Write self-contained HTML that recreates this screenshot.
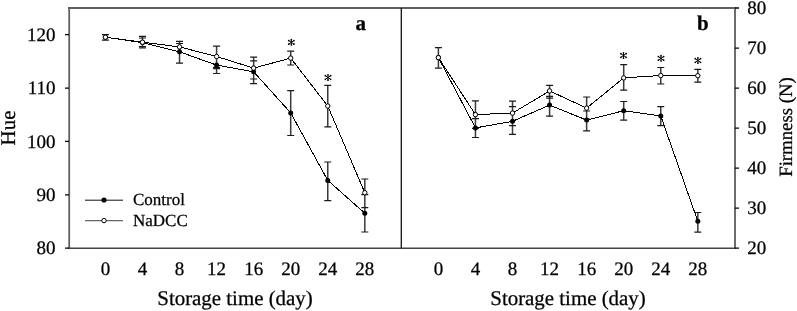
<!DOCTYPE html>
<html><head><meta charset="utf-8"><title>Hue and Firmness</title><style>
html,body{margin:0;padding:0;background:#fff;}
body{width:797px;height:311px;overflow:hidden;}
svg{display:block;text-rendering:geometricPrecision;will-change:transform;}
text{font-family:"Liberation Serif",serif;fill:#000;stroke:#000;stroke-width:0.25px;}
.tk{font-size:19px;}
.ti{font-size:20.9px;}
.tr{font-size:18.8px;}
.lg{font-size:17px;}
.ab{font-size:21px;font-weight:bold;}
.st{font-size:17px;}
</style></head><body>
<svg width="797" height="311" viewBox="0 0 797 311">
<rect width="797" height="311" fill="#fff"/>
<path d="M68 8H736" stroke="#606060" stroke-width="2" fill="none"/>
<path d="M69.2 8V248.2" stroke="#606060" stroke-width="1.8" fill="none"/>
<path d="M735 8V248.2" stroke="#666" stroke-width="1.9" fill="none"/>
<path d="M68 248.2H736" stroke="#444" stroke-width="1.6" fill="none"/>
<path d="M401.3 8V248.2" stroke="#111" stroke-width="1.3" fill="none"/>
<path d="M65 34.69H69 M65 88.07H69 M65 141.44H69 M65 194.82H69 M65 248.2H69 M735 8H739 M735 48.03H739 M735 88.07H739 M735 128.1H739 M735 168.13H739 M735 208.17H739 M735 248.2H739" stroke="#000" stroke-width="1.3" fill="none"/>
<text x="55.5" y="40.89" class="tk" text-anchor="end">120</text>
<text x="55.5" y="94.27" class="tk" text-anchor="end">110</text>
<text x="55.5" y="147.64" class="tk" text-anchor="end">100</text>
<text x="55.5" y="201.02" class="tk" text-anchor="end">90</text>
<text x="55.5" y="254.4" class="tk" text-anchor="end">80</text>
<text x="747.3" y="14" class="tk">80</text>
<text x="747.3" y="54.03" class="tk">70</text>
<text x="747.3" y="94.07" class="tk">60</text>
<text x="747.3" y="134.1" class="tk">50</text>
<text x="747.3" y="174.13" class="tk">40</text>
<text x="747.3" y="214.17" class="tk">30</text>
<text x="747.3" y="254.2" class="tk">20</text>
<text x="105.4" y="274.5" class="tk" text-anchor="middle">0</text>
<text x="438.4" y="274.5" class="tk" text-anchor="middle">0</text>
<text x="142.46" y="274.5" class="tk" text-anchor="middle">4</text>
<text x="475.46" y="274.5" class="tk" text-anchor="middle">4</text>
<text x="179.52" y="274.5" class="tk" text-anchor="middle">8</text>
<text x="512.52" y="274.5" class="tk" text-anchor="middle">8</text>
<text x="216.58" y="274.5" class="tk" text-anchor="middle">12</text>
<text x="549.58" y="274.5" class="tk" text-anchor="middle">12</text>
<text x="253.64" y="274.5" class="tk" text-anchor="middle">16</text>
<text x="586.64" y="274.5" class="tk" text-anchor="middle">16</text>
<text x="290.7" y="274.5" class="tk" text-anchor="middle">20</text>
<text x="623.7" y="274.5" class="tk" text-anchor="middle">20</text>
<text x="327.76" y="274.5" class="tk" text-anchor="middle">24</text>
<text x="660.76" y="274.5" class="tk" text-anchor="middle">24</text>
<text x="364.82" y="274.5" class="tk" text-anchor="middle">28</text>
<text x="697.82" y="274.5" class="tk" text-anchor="middle">28</text>
<text x="235" y="305" class="ti" text-anchor="middle">Storage time (day)</text>
<text x="568" y="305" class="ti" text-anchor="middle">Storage time (day)</text>
<text transform="translate(15 128) rotate(-90)" class="ti" text-anchor="middle">Hue</text>
<text transform="translate(791.5 127) rotate(-90)" class="tr" text-anchor="middle">Firmness (N)</text>
<text x="355.5" y="30" class="ab">a</text>
<text x="697" y="30.4" class="ab">b</text>
<path d="M105.4 34.6V40.2 M142.46 36.4V47.8 M179.52 41.3V63.2 M216.58 46.2V73.5 M253.64 57.2V83.7 M290.7 51.2V65 M290.7 90.6V135.5 M327.76 85.4V126.9 M327.76 162V200.7 M364.82 179V232" stroke="#3a3a3a" stroke-width="1.5" fill="none"/>
<path d="M101.9 34.6H108.9 M101.9 40.2H108.9 M138.96 36.4H145.96 M138.96 38H145.96 M138.96 46.5H145.96 M138.96 47.8H145.96 M176.02 41.3H183.02 M176.02 43.5H183.02 M176.02 63.2H183.02 M213.08 46.2H220.08 M213.08 67.3H220.08 M213.08 68.6H220.08 M213.08 73.5H220.08 M250.14 57.2H257.14 M250.14 60.9H257.14 M250.14 79H257.14 M250.14 83.7H257.14 M287.2 51.2H294.2 M287.2 65H294.2 M287.2 90.6H294.2 M287.2 135.5H294.2 M324.26 85.4H331.26 M324.26 126.9H331.26 M324.26 162H331.26 M324.26 200.7H331.26 M361.32 179H368.32 M361.32 194.6H368.32 M361.32 207.6H368.32 M361.32 232H368.32" stroke="#1a1a1a" stroke-width="1.2" fill="none"/>
<polyline points="105.4,37.2 142.46,42.6 179.52,51.8 216.58,65.1 253.64,71.8 290.7,112.9 327.76,180.4 364.82,213.2" stroke="#000" stroke-width="1" fill="none" shape-rendering="crispEdges"/>
<polyline points="105.4,37.2 142.46,42.2 179.52,46.9 216.58,56.5 253.64,68.1 290.7,58.1 327.76,106 364.82,192.7" stroke="#000" stroke-width="1" fill="none" shape-rendering="crispEdges"/>
<circle cx="105.4" cy="37.2" r="2.5" fill="#000"/>
<circle cx="142.46" cy="42.6" r="2.5" fill="#000"/>
<circle cx="179.52" cy="51.8" r="2.5" fill="#000"/>
<circle cx="216.58" cy="65.1" r="2.5" fill="#000"/>
<circle cx="253.64" cy="71.8" r="2.5" fill="#000"/>
<circle cx="290.7" cy="112.9" r="2.5" fill="#000"/>
<circle cx="327.76" cy="180.4" r="2.5" fill="#000"/>
<circle cx="364.82" cy="213.2" r="2.5" fill="#000"/>
<circle cx="105.4" cy="37.2" r="2.2" fill="#fff" stroke="#000" stroke-width="1"/>
<circle cx="142.46" cy="42.2" r="2.2" fill="#fff" stroke="#000" stroke-width="1"/>
<circle cx="179.52" cy="46.9" r="2.2" fill="#fff" stroke="#000" stroke-width="1"/>
<circle cx="216.58" cy="56.5" r="2.2" fill="#fff" stroke="#000" stroke-width="1"/>
<circle cx="253.64" cy="68.1" r="2.2" fill="#fff" stroke="#000" stroke-width="1"/>
<circle cx="290.7" cy="58.1" r="2.2" fill="#fff" stroke="#000" stroke-width="1"/>
<circle cx="327.76" cy="106" r="2.2" fill="#fff" stroke="#000" stroke-width="1"/>
<circle cx="364.82" cy="192.7" r="2.2" fill="#fff" stroke="#000" stroke-width="1"/>
<path d="M291.35 39.70L291.35 45.00 M288.70 40.56L294.00 44.14 M294.00 40.56L288.70 44.14" stroke="#000" stroke-width="1.0" fill="none"/><circle cx="291.35" cy="39.70" r="0.85" fill="#000"/><circle cx="291.35" cy="45.00" r="0.85" fill="#000"/><circle cx="288.70" cy="40.56" r="0.85" fill="#000"/><circle cx="294.00" cy="44.14" r="0.85" fill="#000"/><circle cx="294.00" cy="40.56" r="0.85" fill="#000"/><circle cx="288.70" cy="44.14" r="0.85" fill="#000"/>
<path d="M328.00 74.85L328.00 80.15 M325.35 75.71L330.65 79.29 M330.65 75.71L325.35 79.29" stroke="#000" stroke-width="1.0" fill="none"/><circle cx="328.00" cy="74.85" r="0.85" fill="#000"/><circle cx="328.00" cy="80.15" r="0.85" fill="#000"/><circle cx="325.35" cy="75.71" r="0.85" fill="#000"/><circle cx="330.65" cy="79.29" r="0.85" fill="#000"/><circle cx="330.65" cy="75.71" r="0.85" fill="#000"/><circle cx="325.35" cy="79.29" r="0.85" fill="#000"/>
<path d="M438.4 47.7V68.1 M475.46 100.9V137.5 M512.52 101.1V134.3 M549.58 85.4V116.2 M586.64 97V130.9 M623.7 64.7V90.2 M623.7 101.5V120.1 M660.76 67.5V84 M660.76 106.6V125.7 M697.82 69.3V82.1 M697.82 212.5V232.1" stroke="#3a3a3a" stroke-width="1.5" fill="none"/>
<path d="M434.9 47.7H441.9 M434.9 68.1H441.9 M471.96 100.9H478.96 M471.96 118.6H478.96 M471.96 128.3H478.96 M471.96 137.5H478.96 M509.02 101.1H516.02 M509.02 106.6H516.02 M509.02 125.6H516.02 M509.02 134.3H516.02 M546.08 85.4H553.08 M546.08 96.4H553.08 M546.08 98.1H553.08 M546.08 116.2H553.08 M583.14 97H590.14 M583.14 111H590.14 M583.14 119.2H590.14 M583.14 130.9H590.14 M620.2 64.7H627.2 M620.2 90.2H627.2 M620.2 101.5H627.2 M620.2 120.1H627.2 M657.26 67.5H664.26 M657.26 84H664.26 M657.26 106.6H664.26 M657.26 125.7H664.26 M694.32 69.3H701.32 M694.32 82.1H701.32 M694.32 212.5H701.32 M694.32 232.1H701.32" stroke="#1a1a1a" stroke-width="1.2" fill="none"/>
<polyline points="438.4,57.6 475.46,127.9 512.52,121.3 549.58,105.1 586.64,120.1 623.7,110.7 660.76,116 697.82,221.3" stroke="#000" stroke-width="1" fill="none" shape-rendering="crispEdges"/>
<polyline points="438.4,57.6 475.46,114.6 512.52,113.1 549.58,90.9 586.64,108.1 623.7,77.9 660.76,75.5 697.82,75.7" stroke="#000" stroke-width="1" fill="none" shape-rendering="crispEdges"/>
<circle cx="438.4" cy="57.6" r="2.5" fill="#000"/>
<circle cx="475.46" cy="127.9" r="2.5" fill="#000"/>
<circle cx="512.52" cy="121.3" r="2.5" fill="#000"/>
<circle cx="549.58" cy="105.1" r="2.5" fill="#000"/>
<circle cx="586.64" cy="120.1" r="2.5" fill="#000"/>
<circle cx="623.7" cy="110.7" r="2.5" fill="#000"/>
<circle cx="660.76" cy="116" r="2.5" fill="#000"/>
<circle cx="697.82" cy="221.3" r="2.5" fill="#000"/>
<circle cx="438.4" cy="57.6" r="2.2" fill="#fff" stroke="#000" stroke-width="1"/>
<circle cx="475.46" cy="114.6" r="2.2" fill="#fff" stroke="#000" stroke-width="1"/>
<circle cx="512.52" cy="113.1" r="2.2" fill="#fff" stroke="#000" stroke-width="1"/>
<circle cx="549.58" cy="90.9" r="2.2" fill="#fff" stroke="#000" stroke-width="1"/>
<circle cx="586.64" cy="108.1" r="2.2" fill="#fff" stroke="#000" stroke-width="1"/>
<circle cx="623.7" cy="77.9" r="2.2" fill="#fff" stroke="#000" stroke-width="1"/>
<circle cx="660.76" cy="75.5" r="2.2" fill="#fff" stroke="#000" stroke-width="1"/>
<circle cx="697.82" cy="75.7" r="2.2" fill="#fff" stroke="#000" stroke-width="1"/>
<path d="M623.50 52.85L623.50 58.15 M620.85 53.71L626.15 57.29 M626.15 53.71L620.85 57.29" stroke="#000" stroke-width="1.0" fill="none"/><circle cx="623.50" cy="52.85" r="0.85" fill="#000"/><circle cx="623.50" cy="58.15" r="0.85" fill="#000"/><circle cx="620.85" cy="53.71" r="0.85" fill="#000"/><circle cx="626.15" cy="57.29" r="0.85" fill="#000"/><circle cx="626.15" cy="53.71" r="0.85" fill="#000"/><circle cx="620.85" cy="57.29" r="0.85" fill="#000"/>
<path d="M661.00 55.70L661.00 61.00 M658.35 56.56L663.65 60.14 M663.65 56.56L658.35 60.14" stroke="#000" stroke-width="1.0" fill="none"/><circle cx="661.00" cy="55.70" r="0.85" fill="#000"/><circle cx="661.00" cy="61.00" r="0.85" fill="#000"/><circle cx="658.35" cy="56.56" r="0.85" fill="#000"/><circle cx="663.65" cy="60.14" r="0.85" fill="#000"/><circle cx="663.65" cy="56.56" r="0.85" fill="#000"/><circle cx="658.35" cy="60.14" r="0.85" fill="#000"/>
<path d="M697.90 57.85L697.90 63.15 M695.25 58.71L700.55 62.29 M700.55 58.71L695.25 62.29" stroke="#000" stroke-width="1.0" fill="none"/><circle cx="697.90" cy="57.85" r="0.85" fill="#000"/><circle cx="697.90" cy="63.15" r="0.85" fill="#000"/><circle cx="695.25" cy="58.71" r="0.85" fill="#000"/><circle cx="700.55" cy="62.29" r="0.85" fill="#000"/><circle cx="700.55" cy="58.71" r="0.85" fill="#000"/><circle cx="695.25" cy="62.29" r="0.85" fill="#000"/>
<path d="M85 200.2H123" stroke="#111" stroke-width="1.0"/>
<circle cx="104" cy="200" r="2.6" fill="#000"/>
<path d="M85 220.7H123" stroke="#666" stroke-width="1.3"/>
<circle cx="104" cy="220.6" r="2.2" fill="#fff" stroke="#000" stroke-width="1"/>
<text x="133" y="205.2" class="lg">Control</text>
<text x="133" y="225.7" class="lg">NaDCC</text>
</svg>
</body></html>
